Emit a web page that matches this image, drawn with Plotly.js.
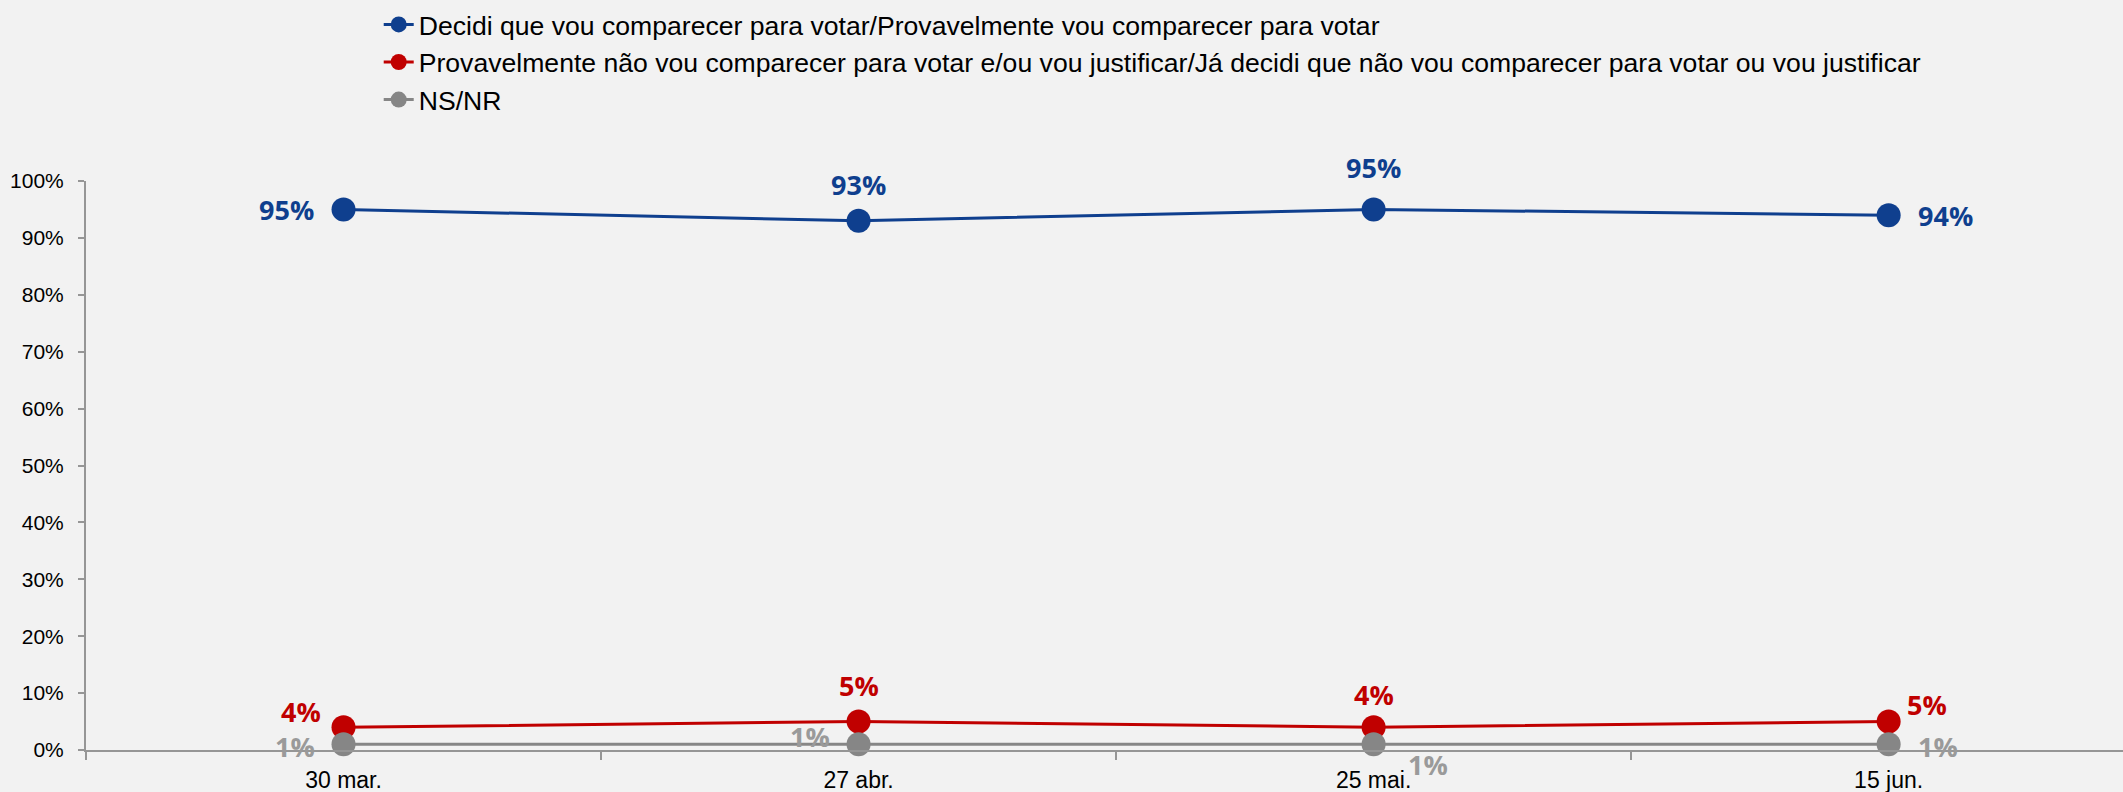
<!DOCTYPE html>
<html>
<head>
<meta charset="utf-8">
<script src="https://cdn.plot.ly/plotly-3.0.1.min.js"></script>
<style>html,body{margin:0;padding:0;background:#F2F2F2;}#chart{width:2123px;height:792px;}</style>
</head>
<body>
<div id="chart"></div>
<script>
// ---- data ----
var categories = ['30 mar.', '27 abr.', '25 mai.', '15 jun.'];
var seriesNames = [
  'Decidi que vou comparecer para votar/Provavelmente vou comparecer para votar',
  'Provavelmente não vou comparecer para votar e/ou vou justificar/Já decidi que não vou comparecer para votar ou vou justificar',
  'NS/NR'
];
var compareceu = [95, 93, 95, 94];
var naoCompareceu = [4, 5, 4, 5];
var nsnr = [1, 1, 1, 1];
var yTickValues = [0, 10, 20, 30, 40, 50, 60, 70, 80, 90, 100];

// ---- styles ----
var colors = ['#0F3F8E', '#C00000', '#868686'];
var labelColors = ['#0F3F8E', '#C00000', '#9A9A9A'];
var seriesValues = [compareceu, naoCompareceu, nsnr];

// label placement per point: [xanchor, xshift, yshift]
var placement = [
  [['right', -28, 0], ['center', 0, 36], ['center', 0, 42], ['left', 27, 0]],
  [['right', -21, 16], ['center', 0, 36], ['center', 0, 33], ['left', 16, 17]],
  [['right', -27, -2], ['right', -27, 8], ['left', 32, -20], ['left', 27, -2]]
];

var traces = seriesValues.map(function (vals, i) {
  return {
    type: 'scatter',
    mode: 'lines+markers',
    x: categories,
    y: vals,
    name: seriesNames[i],
    legendgroup: 'g' + i,
    line: {color: colors[i], width: 3},
    marker: {color: colors[i], size: 24},
    cliponaxis: false,
    hoverinfo: 'skip'
  };
});

var annotations = [];
seriesValues.forEach(function (vals, i) {
  vals.forEach(function (v, j) {
    var p = placement[i][j];
    annotations.push({
      x: categories[j], y: v, xref: 'x', yref: 'y',
      text: v + '%', showarrow: false,
      xanchor: p[0], yanchor: 'middle',
      xshift: p[1], yshift: p[2],
      font: {family: '"Open Sans", "Noto Sans", sans-serif', size: 27, color: labelColors[i], weight: 'bold'}
    });
  });
});

var layout = {
  width: 2123, height: 792,
  paper_bgcolor: '#F2F2F2', plot_bgcolor: '#F2F2F2',
  margin: {l: 86, r: 0, t: 181, b: 42, pad: 0},
  showlegend: true,
  legend: {
    x: 0.1437, y: 1.317, xanchor: 'left', yanchor: 'top',
    bgcolor: 'rgba(0,0,0,0)',
    font: {family: '"Liberation Sans", Arial, sans-serif', size: 26.6, color: '#000'},
    tracegroupgap: 0
  },
  xaxis: {
    type: 'category',
    range: [-0.5, 3.455],
    showline: true, linecolor: '#969696', linewidth: 2,
    ticks: 'outside', tickson: 'boundaries', ticklen: 8, tickwidth: 2, tickcolor: '#969696',
    showgrid: false, zeroline: false,
    ticklabelstandoff: 8,
    tickfont: {family: '"Liberation Sans", Arial, sans-serif', size: 23, color: '#000'},
    fixedrange: true
  },
  yaxis: {
    range: [0, 100],
    tickvals: yTickValues,
    ticktext: yTickValues.map(function (v) { return v + '%'; }),
    showline: true, linecolor: '#969696', linewidth: 2,
    ticks: 'outside', ticklen: 6, tickwidth: 2, tickcolor: '#969696',
    showgrid: false, zeroline: false,
    ticklabelstandoff: 10,
    tickfont: {family: '"Liberation Sans", Arial, sans-serif', size: 21, color: '#000'},
    fixedrange: true
  },
  annotations: annotations,
  hovermode: false
};

Plotly.newPlot('chart', traces, layout, {displayModeBar: false, staticPlot: true});
</script>
</body>
</html>
